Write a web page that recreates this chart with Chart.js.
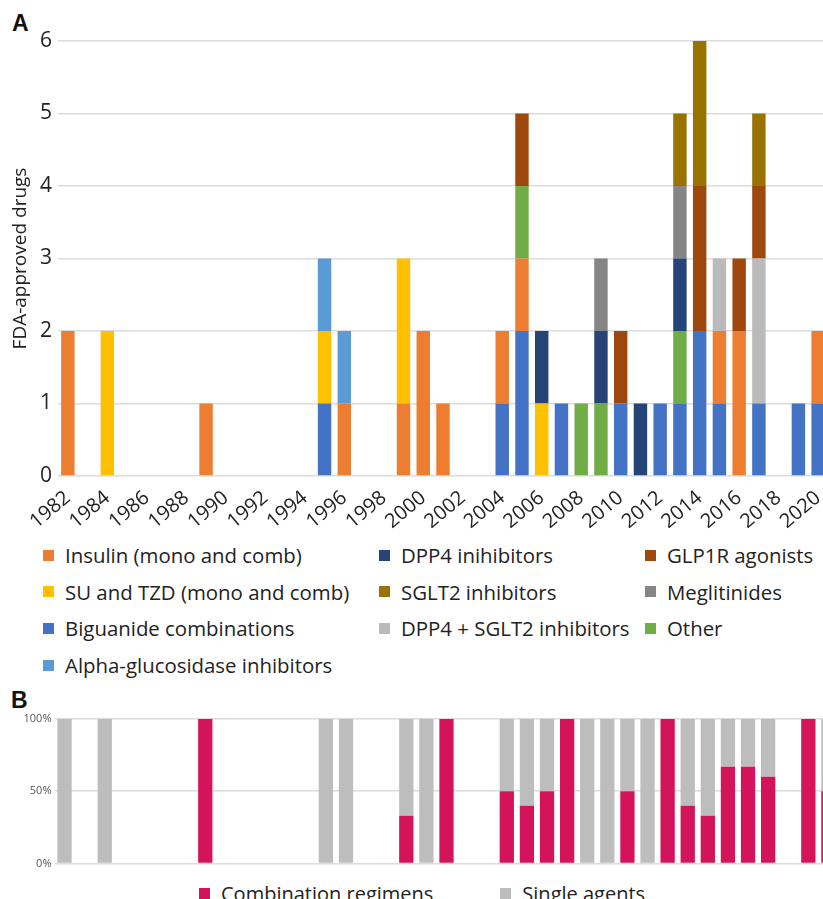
<!DOCTYPE html>
<html>
<head>
<meta charset="utf-8">
<script src="https://cdn.jsdelivr.net/npm/chart.js@4.4.1/dist/chart.umd.min.js"></script>
<style>
  html, body { margin: 0; padding: 0; background: #ffffff; }
  body { width: 823px; height: 899px; overflow: hidden; position: relative; font-family: 'Open Sans', sans-serif; color: #222; }
  .panel { position: absolute; font-family: 'Liberation Sans', Arial, sans-serif; font-weight: bold; font-size: 23px; color: #111; }
  #wrapA { position: absolute; left: 0; top: 0; width: 840px; height: 530px; }
  #wrapB { position: absolute; left: 0; top: 700px; width: 850px; height: 173px; }
  #legendA { position: absolute; left: 43px; top: 543px; display: grid; grid-template-columns: 336px 266px auto; grid-auto-rows: 36.7px; font-size: 20.4px; }
  #legendB { position: absolute; left: 199px; top: 881px; display: flex; font-size: 20px; }
  .item { display: flex; align-items: center; white-space: nowrap; height: 24px; }
  .box { width: 11px; height: 11px; margin-right: 11px; flex: none; }
  #legendB .item + .item { margin-left: 67px; }
</style>
</head>
<body>
<div class="panel" style="left:12px; top:10px;">A</div>
<div class="panel" style="left:11px; top:687px;">B</div>
<div id="wrapA"><canvas id="chartA" width="840" height="530"></canvas></div>
<div id="legendA"></div>
<div id="wrapB"><canvas id="chartB" width="850" height="173"></canvas></div>
<div id="legendB"></div>
<script>
// Approval years, 1982-2020
const years = ['1982','1983','1984','1985','1986','1987','1988','1989','1990','1991',
               '1992','1993','1994','1995','1996','1997','1998','1999','2000','2001',
               '2002','2003','2004','2005','2006','2007','2008','2009','2010','2011',
               '2012','2013','2014','2015','2016','2017','2018','2019','2020'];

// FDA-approved drugs per year by class
const biguanide = [0,0,0,0,0,0,0,0,0,0, 0,0,0,1,0,0,0,0,0,0, 0,0,1,2,0,1,0,0,1,0, 1,1,2,1,0,1,0,1,1];
const insulin   = [2,0,0,0,0,0,0,1,0,0, 0,0,0,0,1,0,0,1,2,1, 0,0,1,1,0,0,0,0,0,0, 0,0,0,1,2,0,0,0,1];
const suTzd     = [0,0,2,0,0,0,0,0,0,0, 0,0,0,1,0,0,0,2,0,0, 0,0,0,0,1,0,0,0,0,0, 0,0,0,0,0,0,0,0,0];
const alphaGluc = [0,0,0,0,0,0,0,0,0,0, 0,0,0,1,1,0,0,0,0,0, 0,0,0,0,0,0,0,0,0,0, 0,0,0,0,0,0,0,0,0];
const other     = [0,0,0,0,0,0,0,0,0,0, 0,0,0,0,0,0,0,0,0,0, 0,0,0,1,0,0,1,1,0,0, 0,1,0,0,0,0,0,0,0];
const dpp4      = [0,0,0,0,0,0,0,0,0,0, 0,0,0,0,0,0,0,0,0,0, 0,0,0,0,1,0,0,1,0,1, 0,1,0,0,0,0,0,0,0];
const meglit    = [0,0,0,0,0,0,0,0,0,0, 0,0,0,0,0,0,0,0,0,0, 0,0,0,0,0,0,0,1,0,0, 0,1,0,0,0,0,0,0,0];
const dpp4Sglt2 = [0,0,0,0,0,0,0,0,0,0, 0,0,0,0,0,0,0,0,0,0, 0,0,0,0,0,0,0,0,0,0, 0,0,0,1,0,2,0,0,0];
const glp1r     = [0,0,0,0,0,0,0,0,0,0, 0,0,0,0,0,0,0,0,0,0, 0,0,0,1,0,0,0,0,1,0, 0,0,2,0,1,1,0,0,0];
const sglt2     = [0,0,0,0,0,0,0,0,0,0, 0,0,0,0,0,0,0,0,0,0, 0,0,0,0,0,0,0,0,0,0, 0,1,2,0,0,1,0,0,0];

// Share of approvals per year (%)
const combination = [0,null,0,null,null,null,null,100,null,null, null,null,null,0,0,null,null,33,0,100,
                     null,null,50,40,50,100,0,0,50,0, 100,40,33,67,67,60,null,100,50];
const single      = [100,null,100,null,null,null,null,0,null,null, null,null,null,100,100,null,null,67,100,0,
                     null,null,50,60,50,0,100,100,50,100, 0,60,67,33,33,40,null,0,50];

Chart.defaults.font.family = "'Open Sans', sans-serif";
Chart.defaults.color = '#222';
Chart.defaults.animation = false;

// Datasets listed bottom-to-top in stacking order
const classes = [
  { label: 'Biguanide combinations', data: biguanide, color: '#4472C4' },
  { label: 'Insulin (mono and comb)', data: insulin, color: '#ED7D31' },
  { label: 'SU and TZD (mono and comb)', data: suTzd, color: '#FFC000' },
  { label: 'Alpha-glucosidase inhibitors', data: alphaGluc, color: '#5B9BD5' },
  { label: 'Other', data: other, color: '#70AD47' },
  { label: 'DPP4 inihibitors', data: dpp4, color: '#264478' },
  { label: 'Meglitinides', data: meglit, color: '#858585' },
  { label: 'DPP4 + SGLT2 inhibitors', data: dpp4Sglt2, color: '#BABABA' },
  { label: 'GLP1R agonists', data: glp1r, color: '#9E480E' },
  { label: 'SGLT2 inhibitors', data: sglt2, color: '#997300' }
];

// Legend reading order (three columns, row by row)
const legendOrder = ['Insulin (mono and comb)', 'DPP4 inihibitors', 'GLP1R agonists',
                     'SU and TZD (mono and comb)', 'SGLT2 inhibitors', 'Meglitinides',
                     'Biguanide combinations', 'DPP4 + SGLT2 inhibitors', 'Other',
                     'Alpha-glucosidase inhibitors'];

const chartA = new Chart(document.getElementById('chartA'), {
  type: 'bar',
  data: {
    labels: years,
    datasets: classes.map(c => ({
      label: c.label, data: c.data, backgroundColor: c.color,
      borderWidth: 0, categoryPercentage: 1, barPercentage: 0.68
    }))
  },
  options: {
    responsive: false,
    layout: { padding: { top: 41, right: 12, left: 0, bottom: 0 } },
    plugins: { legend: { display: false }, tooltip: { enabled: false } },
    scales: {
      x: {
        stacked: true,
        grid: { display: false },
        border: { display: false },
        ticks: {
          autoSkip: false, minRotation: 40, maxRotation: 40, padding: 2,
          font: { size: 20 }, color: '#222',
          callback: function (v, i) { return i % 2 === 0 ? years[i] : ''; }
        },
        afterFit: s => { s.height = 54; }
      },
      y: {
        stacked: true, min: 0, max: 6,
        grid: { color: '#DCDCDC', lineWidth: 1.5, drawTicks: false },
        border: { display: false },
        ticks: { stepSize: 1, padding: 6, font: { size: 21 }, color: '#222' },
        title: { display: true, text: 'FDA-approved drugs', font: { size: 19 }, color: '#222', padding: { top: 9, bottom: 0 } },
        afterFit: s => { s.width = 58; }
      }
    }
  }
});

// HTML legend built from the chart's own datasets
const legA = document.getElementById('legendA');
legendOrder.forEach(name => {
  const ds = chartA.data.datasets.find(d => d.label === name);
  const el = document.createElement('div');
  el.className = 'item';
  el.innerHTML = '<span class="box" style="background:' + ds.backgroundColor + '"></span>' + ds.label;
  legA.appendChild(el);
});

const chartB = new Chart(document.getElementById('chartB'), {
  type: 'bar',
  data: {
    labels: years,
    datasets: [
      { label: 'Combination regimens', data: combination, backgroundColor: '#D4145A',
        borderWidth: 0, categoryPercentage: 1, barPercentage: 0.71 },
      { label: 'Single agents', data: single, backgroundColor: '#BDBDBD',
        borderWidth: 0, categoryPercentage: 1, barPercentage: 0.71 }
    ]
  },
  options: {
    responsive: false,
    layout: { padding: { top: 19, right: 11.5, left: 0, bottom: 0 } },
    plugins: { legend: { display: false }, tooltip: { enabled: false } },
    scales: {
      x: { stacked: true, display: false },
      y: {
        stacked: true, min: 0, max: 100,
        grid: { color: '#DCDCDC', lineWidth: 1.5, drawTicks: false },
        border: { display: false },
        ticks: { stepSize: 50, padding: 3, font: { size: 11 }, color: '#555',
                 callback: v => v + '%' },
        afterFit: s => { s.width = 54.5; }
      }
    }
  }
});

const legB = document.getElementById('legendB');
chartB.data.datasets.forEach(ds => {
  const el = document.createElement('div');
  el.className = 'item';
  el.innerHTML = '<span class="box" style="background:' + ds.backgroundColor + '"></span>' + ds.label;
  legB.appendChild(el);
});
</script>
</body>
</html>
